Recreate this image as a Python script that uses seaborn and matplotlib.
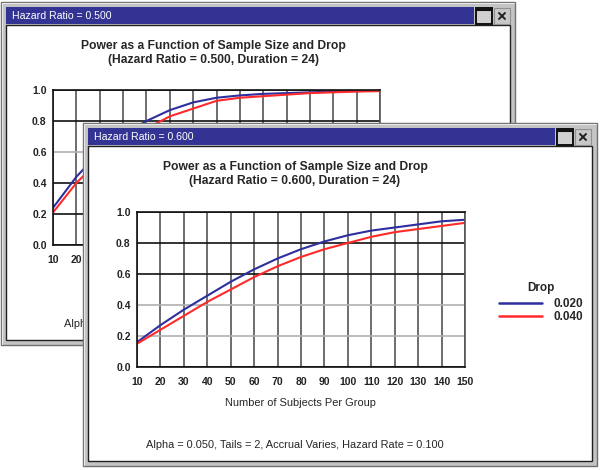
import matplotlib
matplotlib.use("Agg")
import matplotlib.pyplot as plt
import seaborn as sns
import pandas as pd
from matplotlib.patches import Rectangle
from matplotlib.lines import Line2D
from matplotlib.ticker import MultipleLocator

# ---------------- data ----------------
subjects = [10, 20, 30, 40, 50, 60, 70, 80, 90, 100, 110, 120, 130, 140, 150]
drop_levels = ["0.020", "0.040"]
# Hazard ratio 0.600 (front window)
power_hr060_d020 = [0.16, 0.27, 0.37, 0.46, 0.55, 0.63, 0.70, 0.76, 0.81, 0.85, 0.88, 0.90, 0.92, 0.94, 0.95]
power_hr060_d040 = [0.15, 0.24, 0.33, 0.42, 0.50, 0.58, 0.65, 0.71, 0.76, 0.80, 0.84, 0.87, 0.89, 0.91, 0.93]
# Hazard ratio 0.500 (back window)
power_hr050_d020 = [0.24, 0.44, 0.60, 0.71, 0.80, 0.87, 0.92, 0.95, 0.965, 0.975, 0.98, 0.985, 0.99, 0.993, 0.995]
power_hr050_d040 = [0.21, 0.40, 0.55, 0.67, 0.75, 0.83, 0.88, 0.93, 0.95, 0.96, 0.97, 0.98, 0.985, 0.99, 0.993]
x_ticks = subjects
y_ticks = [0.0, 0.2, 0.4, 0.6, 0.8, 1.0]

main_title = "Power as a Function of Sample Size and Drop"
sub_title_back = "(Hazard Ratio = 0.500, Duration = 24)"
sub_title_front = "(Hazard Ratio = 0.600, Duration = 24)"
win_title_back = "Hazard Ratio = 0.500"
win_title_front = "Hazard Ratio = 0.600"
x_label = "Number of Subjects Per Group"
footer = "Alpha = 0.050, Tails = 2, Accrual Varies, Hazard Rate = 0.100"
legend_title = "Drop"

def long_df(d020, d040):
    return pd.DataFrame({
        "n": subjects + subjects,
        "power": d020 + d040,
        "Drop": [drop_levels[0]] * len(subjects) + [drop_levels[1]] * len(subjects),
    })

df_back = long_df(power_hr050_d020, power_hr050_d040)
df_front = long_df(power_hr060_d020, power_hr060_d040)

# ---------------- style ----------------
sns.set_style("white")
plt.rcParams['font.family'] = ['Liberation Sans', 'DejaVu Sans']
palette = {"0.020": "#2e2e9e", "0.040": "#ff2a2a"}
W, H = 600, 470
fig = plt.figure(figsize=(6, 4.7), dpi=100)
fig.patch.set_facecolor("white")

def frac(x0, y0, x1, y1):
    return [x0 / W, 1 - y1 / H, (x1 - x0) / W, (y1 - y0) / H]

def pixel_axes(z):
    a = fig.add_axes([0, 0, 1, 1], zorder=z)
    a.set_xlim(0, W)
    a.set_ylim(H, 0)
    a.axis("off")
    a.patch.set_alpha(0)
    return a

def draw_window(a, x0, y0, x1, y1, title, bar_end):
    a.add_patch(Rectangle((x0, y0), x1 - x0, y1 - y0, facecolor="#c4c4c4",
                          edgecolor="#707070", lw=1.0))
    a.plot([x0 + 1, x1 - 1], [y0 + 1, y0 + 1], color="#e8e8e8", lw=0.8)
    a.plot([x0 + 1, x0 + 1], [y0 + 1, y1 - 1], color="#e8e8e8", lw=0.8)
    # interior
    a.add_patch(Rectangle((x0 + 5, y0 + 23), x1 - x0 - 10, y1 - y0 - 28,
                          facecolor="white", edgecolor="#202020", lw=1.0))
    # title bar
    a.add_patch(Rectangle((x0 + 5, y0 + 5), bar_end - x0 - 5, 17,
                          facecolor="#333394", edgecolor="none"))
    a.text(x0 + 11, y0 + 14, title, color="white", fontsize=7.6, va="center", ha="left")
    # buttons
    bx = bar_end + 2
    a.add_patch(Rectangle((bx, y0 + 6), 16, 16, facecolor="#d0d0d0",
                          edgecolor="#101010", lw=1.4))
    a.plot([bx + 1, bx + 15], [y0 + 8, y0 + 8], color="#101010", lw=1.5)
    cx = bx + 18
    a.add_patch(Rectangle((cx, y0 + 6), 16, 16, facecolor="#c8c8c8",
                          edgecolor="#909090", lw=0.8))
    a.plot([cx + 5, cx + 11], [y0 + 11, y0 + 17], color="#202020", lw=1.4)
    a.plot([cx + 5, cx + 11], [y0 + 17, y0 + 11], color="#202020", lw=1.4)

def style_chart(ax, grid_colors):
    ax.set_xlim(10, 150)
    ax.set_ylim(0, 1.0)
    ax.set_xticks(x_ticks)
    ax.set_yticks(y_ticks)
    ax.set_xticklabels([str(v) for v in x_ticks])
    ax.set_yticklabels([f"{v:.1f}" for v in y_ticks])
    ax.xaxis.set_minor_locator(MultipleLocator(5))
    ax.yaxis.set_minor_locator(MultipleLocator(0.1))
    ax.tick_params(axis="both", which="major", labelsize=7.5, length=3, width=1,
                   direction="inout", colors="#222222")
    ax.tick_params(axis="x", which="major", pad=6)
    ax.tick_params(axis="y", which="major", pad=3)
    ax.tick_params(axis="both", which="minor", length=4, width=1,
                   direction="inout", colors="#222222")
    for lab in ax.get_xticklabels() + ax.get_yticklabels():
        lab.set_fontweight("bold")
    ax.grid(True, which="major")
    for gl in ax.get_xgridlines():
        gl.set_color("#555555")
        gl.set_linewidth(1.2)
    for gl, c in zip(ax.get_ygridlines(), grid_colors):
        gl.set_color(c)
        gl.set_linewidth(1.2)
    ax.set_axisbelow(True)
    for side in ["left", "bottom", "top"]:
        ax.spines[side].set_color("#111111")
        ax.spines[side].set_linewidth(1.2)
    ax.spines["right"].set_color("#555555")
    ax.spines["right"].set_linewidth(1.2)
    ax.set_xlabel("")
    ax.set_ylabel("")
    ax.patch.set_facecolor("white")

# ---------------- back window ----------------
bg = pixel_axes(0)
draw_window(bg, 1, 2, 515, 345, win_title_back, 474)
dx, dy = -82, -121
bg.text(295 + dx, 167 + dy, main_title, ha="center", va="center", fontsize=8.7, fontweight="bold")
bg.text(295 + dx, 181 + dy, sub_title_back, ha="center", va="center", fontsize=8.7, fontweight="bold")
bg.text(300 + dx, 403 + dy, x_label, ha="center", va="center", fontsize=7.9)
bg.text(295 + dx, 445 + dy, footer, ha="center", va="center", fontsize=7.9)

ax_back = fig.add_axes(frac(53, 90, 380, 245), zorder=1)
sns.lineplot(data=df_back, x="n", y="power", hue="Drop", hue_order=drop_levels,
             palette=palette, linewidth=1.5, legend=False, ax=ax_back)
style_chart(ax_back, ["#111111", "#111111", "#111111", "#b0b0b0", "#111111", "#111111"])

# ---------------- front window ----------------
fg = pixel_axes(2)
draw_window(fg, 83, 123, 597, 466, win_title_front, 555)
fg.text(295, 167, main_title, ha="center", va="center", fontsize=8.7, fontweight="bold")
fg.text(295, 181, sub_title_front, ha="center", va="center", fontsize=8.7, fontweight="bold")
fg.text(300, 403, x_label, ha="center", va="center", fontsize=7.9)
fg.text(295, 445, footer, ha="center", va="center", fontsize=7.9)

ax_front = fig.add_axes(frac(137, 212, 465, 367), zorder=3)
sns.lineplot(data=df_front, x="n", y="power", hue="Drop", hue_order=drop_levels,
             palette=palette, linewidth=1.5, legend=False, ax=ax_front)
style_chart(ax_front, ["#111111", "#b0b0b0", "#b0b0b0", "#111111", "#111111", "#111111"])

handles = [Line2D([], [], color=palette[d], lw=1.8) for d in drop_levels]
leg = ax_front.legend(handles, drop_levels, title=legend_title, loc="upper left",
                      bbox_to_anchor=(499 / W, 1 - 282 / H), bbox_transform=fig.transFigure,
                      frameon=False, fontsize=8.5, title_fontsize=8.5, borderpad=0,
                      borderaxespad=0, handlelength=3.6, handletextpad=1.0,
                      labelspacing=0.1)
leg._legend_box.sep = 3
leg.get_title().set_fontweight("bold")
for t in leg.get_texts():
    t.set_fontweight("bold")

fig.savefig("out.png", dpi=100, facecolor="white")
